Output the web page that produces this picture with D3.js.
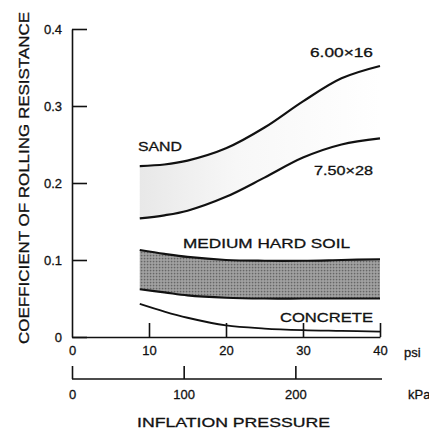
<!DOCTYPE html>
<html><head><meta charset="utf-8">
<script src="https://cdn.jsdelivr.net/npm/d3@7"></script>
<style>
html,body{margin:0;padding:0;background:#fff;}
svg{display:block;font-family:"Liberation Sans",Arial,sans-serif;}
</style></head>
<body>
<script>
const psi = [8.8, 12, 15, 20, 25, 30, 35, 40];
const sandUpper = [0.222, 0.224, 0.229, 0.245, 0.272, 0.306, 0.336, 0.352]; // 6.00x16
const sandLower = [0.154, 0.158, 0.164, 0.182, 0.207, 0.233, 0.250, 0.258]; // 7.50x28
const soilUpper = [0.113, 0.108, 0.104, 0.100, 0.099, 0.099, 0.100, 0.101];
const soilLower = [0.062, 0.058, 0.054, 0.051, 0.050, 0.050, 0.050, 0.050];
const concrete  = [0.043, 0.033, 0.025, 0.015, 0.011, 0.009, 0.008, 0.007];
const yTicks = [0, 0.1, 0.2, 0.3, 0.4];
const psiTicks = [0, 10, 20, 30, 40];
const kpaTicks = [0, 100, 200];

const W = 429, H = 431;
const svg = d3.select("body").append("svg").attr("width", W).attr("height", H);
const x = d3.scaleLinear().domain([0, 40]).range([72, 380]);
const y = d3.scaleLinear().domain([0, 0.4]).range([337, 29]);
const xk = d3.scaleLinear().domain([0, 40 * 6.89476]).range([72, 380]);

const defs = svg.append("defs");
const g1 = defs.append("linearGradient").attr("id", "sandg").attr("x1", "0").attr("x2", "1");
g1.append("stop").attr("offset", "0").attr("stop-color", "#e8e8e8");
g1.append("stop").attr("offset", "0.4").attr("stop-color", "#f7f7f7");
g1.append("stop").attr("offset", "1").attr("stop-color", "#ffffff");
const pat = defs.append("pattern").attr("id", "stip").attr("width", 3).attr("height", 3).attr("patternUnits", "userSpaceOnUse");
pat.append("rect").attr("width", 3).attr("height", 3).attr("fill", "#959595");
pat.append("rect").attr("width", 1.2).attr("height", 1.2).attr("fill", "#666");
pat.append("rect").attr("x", 1.5).attr("y", 1.5).attr("width", 1).attr("height", 1).attr("fill", "#c0c0c0");

const curve = d3.curveCatmullRom.alpha(0.5);
const idx = d3.range(psi.length);
const area = (lo, hi) => d3.area().x(i => x(psi[i])).y0(i => y(lo[i])).y1(i => y(hi[i])).curve(curve);
const line = arr => d3.line().x(i => x(psi[i])).y(i => y(arr[i])).curve(curve);

svg.append("path").attr("d", area(sandLower, sandUpper)(idx)).attr("fill", "url(#sandg)");
svg.append("path").attr("d", area(soilLower, soilUpper)(idx)).attr("fill", "url(#stip)");

[sandUpper, sandLower, soilUpper, soilLower].forEach(a => {
  svg.append("path").attr("d", line(a)(idx)).attr("fill", "none").attr("stroke", "#111").attr("stroke-width", 2.2);
});
svg.append("path").attr("d", line(concrete)(idx)).attr("fill", "none").attr("stroke", "#111").attr("stroke-width", 1.8);

// Axes
const yAxis = d3.axisLeft(y).tickValues(yTicks).tickSizeInner(-15).tickSizeOuter(0).tickPadding(10)
  .tickFormat(d => d === 0 ? "0" : d3.format(".1f")(d));
const ya = svg.append("g").attr("transform", "translate(72,0)").call(yAxis);
const xAxis = d3.axisBottom(x).tickValues(psiTicks).tickSizeInner(-14).tickSizeOuter(0).tickPadding(9);
const xa = svg.append("g").attr("transform", "translate(0,337)").call(xAxis);
const kAxis = d3.axisBottom(xk).tickValues(kpaTicks).tickSizeInner(-13).tickSizeOuter(0).tickPadding(11);
const ka = svg.append("g").attr("transform", "translate(0,379)").call(kAxis);
ka.select(".domain").attr("d", "M72,0H382");
[ya, xa, ka].forEach(g => {
  g.selectAll("path,line").attr("stroke", "#111").attr("stroke-width", 1.6);
  g.selectAll("text").attr("font-size", 13).attr("fill", "#111").attr("stroke", "#111").attr("stroke-width", 0.3)
    .attr("font-family", "Liberation Sans, Arial, sans-serif");
});
xa.selectAll(".tick").filter(d => d === 0).select("line").remove();

const txt = (s, tx, ty, opts = {}) => {
  const t = svg.append("text").attr("x", tx).attr("y", ty).text(s)
    .attr("font-size", opts.size || 13).attr("fill", "#111").attr("stroke", "#111").attr("stroke-width", 0.3)
    .attr("text-anchor", opts.anchor || "start");
  if (opts.len) t.attr("textLength", opts.len).attr("lengthAdjust", "spacingAndGlyphs");
  return t;
};
txt("psi", 404, 357, {size: 13});
txt("kPa", 408, 399, {size: 13});
txt("INFLATION PRESSURE", 137, 427, {size: 13.5, len: 193});
txt("SAND", 138, 151, {size: 13.5, len: 44});
txt("6.00×16", 310, 57, {size: 13, len: 63});
txt("7.50×28", 314, 175, {size: 13, len: 59});
txt("MEDIUM HARD SOIL", 183, 248, {size: 13.5, len: 167});
txt("CONCRETE", 280, 322, {size: 13.5, len: 93});
svg.append("text").attr("transform", "translate(29,178) rotate(-90)")
  .attr("text-anchor", "middle").attr("font-size", 15).attr("fill", "#111").attr("stroke", "#111").attr("stroke-width", 0.3)
  .attr("textLength", 332).attr("lengthAdjust", "spacingAndGlyphs")
  .text("COEFFICIENT OF ROLLING RESISTANCE");
</script>
</body></html>
